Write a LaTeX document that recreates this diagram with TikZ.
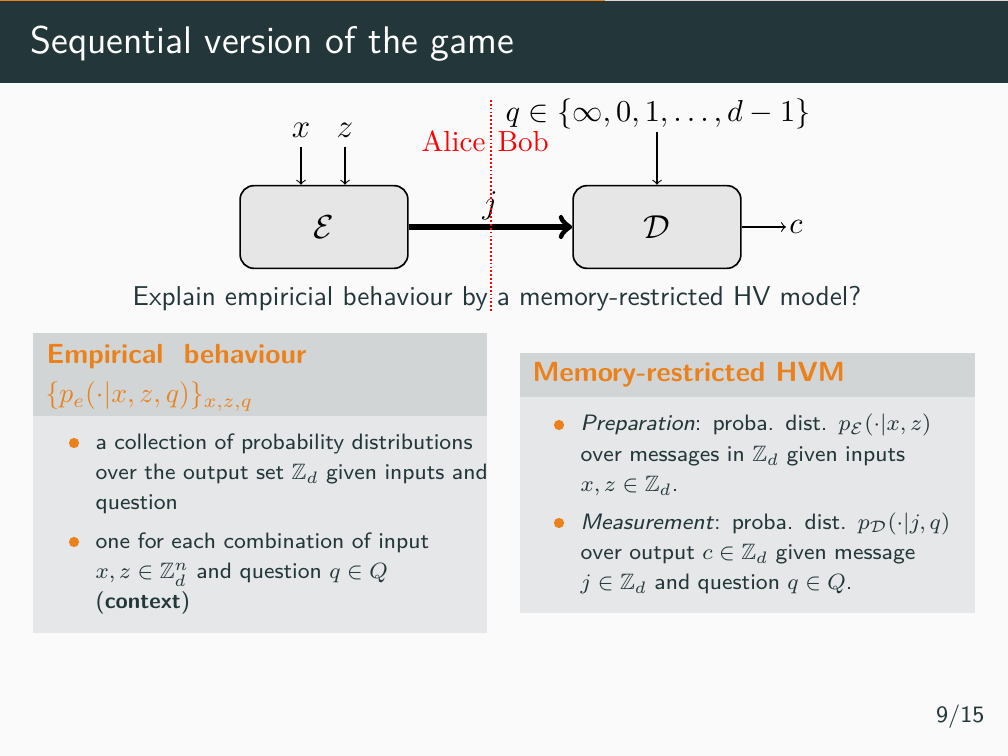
\documentclass[tikz,border=0pt]{standalone}
\usepackage{amsmath, amssymb}
\usepackage{xcolor}
\usepackage{tikz}
\usetikzlibrary{calc, positioning}

\definecolor{mDarkTeal}{HTML}{23373B}
\definecolor{mOrange}{HTML}{EB811B}
\definecolor{mBack}{HTML}{FAFAFA}
\definecolor{barGray}{HTML}{DDD8CF}
\definecolor{blkTitle}{HTML}{D1D5D6}
\definecolor{blkBody}{HTML}{E5E7E8}
\definecolor{boxGray}{HTML}{E6E6E6}

\tikzset{
  box/.style={draw, semithick, fill=boxGray, rounded corners=5pt,
    minimum width=21.3mm, minimum height=10.5mm, font=\fontsize{12.5}{14}\selectfont},
  lbl/.style={font=\fontsize{11}{13}\selectfont},
  dot/.style={circle, fill=mOrange, inner sep=0pt, minimum size=1.3mm},
  itemtext/.style={anchor=base west, inner sep=0pt, align=left, text width=58mm,
    font=\fontsize{8.05}{11}\sffamily, text=mDarkTeal},
  blktitle/.style={anchor=base west, inner sep=0pt,
    font=\fontsize{10}{12}\sffamily\bfseries, text=mOrange}
}

\begin{document}
\begin{tikzpicture}[>=to, x=0.126984mm, y=-0.126984mm]
    % 1. Nền và thanh tiêu đề
    \useasboundingbox (0,0) rectangle (1008,756);
    \fill[mBack] (0,0) rectangle (1008,756);
    \fill[mDarkTeal] (0,0) rectangle (1008,83);
    \fill[mOrange] (0,0) rectangle (605,1.5);
    \fill[barGray] (605,0) rectangle (1008,1.5);
    \node[anchor=base west, inner sep=0pt, text=white, font=\fontsize{13.9}{16}\sffamily]
        (title) at (30,54) {Sequential version of the game};

    % 2. Hai hộp E và D
    \node[box] (enc) at (324,227) {$\mathcal{E}$};
    \node[box] (dec) at (657,227) {$\mathcal{D}$};

    % 3. Đầu vào x, z, q và đầu ra c
    \node[lbl, font=\fontsize{13}{15}\selectfont] (lx) at (301,130) {$x$};
    \node[lbl, font=\fontsize{13}{15}\selectfont] (lz) at (345,130) {$z$};
    \node[lbl, inner sep=1pt] (lq) at (658,114) {$q \in \{\infty, 0, 1, \ldots, d-1\}$};
    \node[lbl, inner sep=1pt, anchor=west] (lc) at (786,227) {$c$};
    \draw[->] (lx) -- (lx |- enc.north);
    \draw[->] (lz) -- (lz |- enc.north);
    \draw[->] (lq.south -| dec.north) -- (dec.north);
    \draw[->] (dec.east) -- (lc.west);

    % 4. Thông điệp j
    \draw[->, line width=2pt] (enc.east) -- (dec.west);
    \node[lbl, inner sep=0pt, font=\fontsize{12}{14}\selectfont] (lj) at (490,206) {$j$};

    % 5. Câu hỏi
    \node[anchor=base, inner sep=0pt, font=\fontsize{9.85}{12}\sffamily, text=mDarkTeal]
        (explain) at (497,306) {Explain empiricial behaviour by a memory-restricted HV model?};

    % 6. Khối bên trái
    \fill[blkTitle] (33,333) rectangle (487,416);
    \fill[blkBody] (33,416) rectangle (487,633);
    \node[blktitle] (emptitle) at (46,363) {Empirical~~behaviour};
    \node[anchor=base west, inner sep=0pt, text=mOrange, font=\fontsize{9.8}{12}\selectfont]
        (empform) at (45,403) {$\{p_e(\cdot|x,z,q)\}_{x,z,q}$};
    \node[dot] (b1) at (74,443) {};
    \node[itemtext] (t1) at (95,449) {a collection of probability distributions\\
        over the output set $\mathbb{Z}_d$ given inputs and\\ question};
    \node[dot] (b2) at (74,542) {};
    \node[itemtext] (t2) at (95,548) {one for each combination of input\\
        $x,z \in \mathbb{Z}_d^n$ and question $q \in Q$\\ (\textbf{context})};

    % 7. Khối bên phải
    \fill[blkTitle] (520,353) rectangle (975,397);
    \fill[blkBody] (520,397) rectangle (975,613);
    \node[blktitle] (hvmtitle) at (532,382) {Memory-restricted HVM};
    \node[dot] (b3) at (559,425) {};
    \node[itemtext] (t3) at (580,431) {\textit{Preparation}: proba. dist. $p_{\mathcal{E}}(\cdot|x,z)$\\
        over messages in $\mathbb{Z}_d$ given inputs\\ $x,z \in \mathbb{Z}_d$.};
    \node[dot] (b4) at (559,523) {};
    \node[itemtext] (t4) at (580,529) {\textit{Measurement}: proba. dist. $p_{\mathcal{D}}(\cdot|j,q)$\\
        over output $c \in \mathbb{Z}_d$ given message\\ $j \in \mathbb{Z}_d$ and question $q \in Q$.};

    % 8. Đường cắt Alice / Bob
    \coordinate (cuttop) at (491,100);
    \coordinate (cutbot) at (491,313);
    \node[anchor=base east, inner sep=0pt, text=red, font=\fontsize{10.5}{12}\selectfont]
        (alice) at (486,152) {Alice};
    \node[anchor=base west, inner sep=0pt, text=red, font=\fontsize{10.5}{12}\selectfont]
        (bob) at (497,152) {Bob};
    \draw[red, line width=0.7pt, dash pattern=on 0.6pt off 0.8pt] (cuttop) -- (cutbot);

    % 9. Số trang
    \node[anchor=base east, inner sep=0pt, text=mDarkTeal, font=\fontsize{8.5}{10}\sffamily]
        (pagenum) at (985,722) {9/15};
\end{tikzpicture}
\end{document}
